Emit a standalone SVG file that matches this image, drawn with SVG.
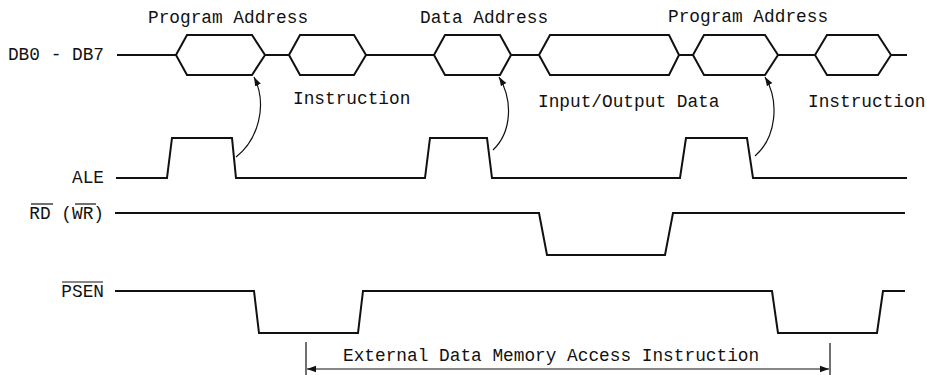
<svg xmlns="http://www.w3.org/2000/svg" width="927" height="375" viewBox="0 0 927 375">
<style>
  text { font-family: "Liberation Mono", "DejaVu Sans Mono", monospace; font-size: 17.8px; fill: #111; }
  .sig { fill: none; stroke: #111; stroke-width: 2; stroke-linejoin: miter; }
  .thin { fill: none; stroke: #111; stroke-width: 1.2; }
  .ol { stroke: #111; stroke-width: 1.2; }
</style>
<defs>
  <marker id="ah" viewBox="0 0 10 10" refX="10" refY="5" markerWidth="9" markerHeight="9" markerUnits="userSpaceOnUse" orient="auto">
    <path d="M0,1.5 L10,5 L0,8.5 Z" fill="#111"/>
  </marker>
</defs>
<rect width="927" height="375" fill="#fff"/>

<g id="labels">
  <text x="104" y="60" text-anchor="end">DB0 - DB7</text>
  <text x="104" y="183" text-anchor="end">ALE</text>
  <text x="104" y="219" text-anchor="end">RD (WR)</text>
  <line class="ol" x1="31" y1="204" x2="53" y2="204"/>
  <line class="ol" x1="75" y1="204" x2="96" y2="204"/>
  <text x="104" y="297" text-anchor="end">PSEN</text>
  <line class="ol" x1="62" y1="282" x2="103" y2="282"/>
</g>

<g id="bus-labels">
  <text x="148" y="23">Program Address</text>
  <text x="420" y="23">Data Address</text>
  <text x="668" y="22">Program Address</text>
  <text x="293" y="104">Instruction</text>
  <text x="538" y="107">Input/Output Data</text>
  <text x="808" y="107">Instruction</text>
</g>

<g id="db-bus">
  <path class="sig" d="M117,55 H176 L187,35 H252 L265,55 L252,75 H187 L176,55"/>
  <path class="sig" d="M265,55 H289 L300,35 H354 L366,55 L354,75 H300 L289,55"/>
  <path class="sig" d="M366,55 H434 L445,35 H500 L511,55 L500,75 H445 L434,55"/>
  <path class="sig" d="M511,55 H539 L550,35 H669 L679,55 L669,75 H550 L539,55"/>
  <path class="sig" d="M679,55 H693 L704,35 H765 L778,55 L765,75 H704 L693,55"/>
  <path class="sig" d="M778,55 H815 L827,35 H878 L891,55 L878,75 H827 L815,55"/>
  <path class="sig" d="M891,55 H907"/>
</g>

<g id="ale">
  <path class="sig" d="M116,178 H167 L172,138 H232 L236,178 H425 L430,138 H487 L492,178 H680 L686,138 H747 L753,178 H907"/>
</g>

<g id="rd-wr">
  <path class="sig" d="M115,213 H539 L547,255 H665 L673,213 H905"/>
</g>

<g id="psen">
  <path class="sig" d="M115,291 H254 L259,333 H358 L363,291 H772 L778,333 H877 L883,291 H905"/>
</g>

<g id="connectors">
  <path class="thin" d="M236,157 C258,140 268,105 254,77" marker-end="url(#ah)"/>
  <path class="thin" d="M493,150 C512,132 513,100 499,77" marker-end="url(#ah)"/>
  <path class="thin" d="M755,156 C776,138 780,102 765,77" marker-end="url(#ah)"/>
</g>

<g id="bracket">
  <line class="thin" x1="306" y1="342" x2="306" y2="375"/>
  <line class="thin" x1="830" y1="343" x2="830" y2="375"/>
  <line class="thin" x1="568" y1="369" x2="307" y2="369" marker-end="url(#ah)"/>
  <line class="thin" x1="568" y1="369" x2="829" y2="369" marker-end="url(#ah)"/>
  <text x="343" y="361">External Data Memory Access Instruction</text>
</g>
</svg>
